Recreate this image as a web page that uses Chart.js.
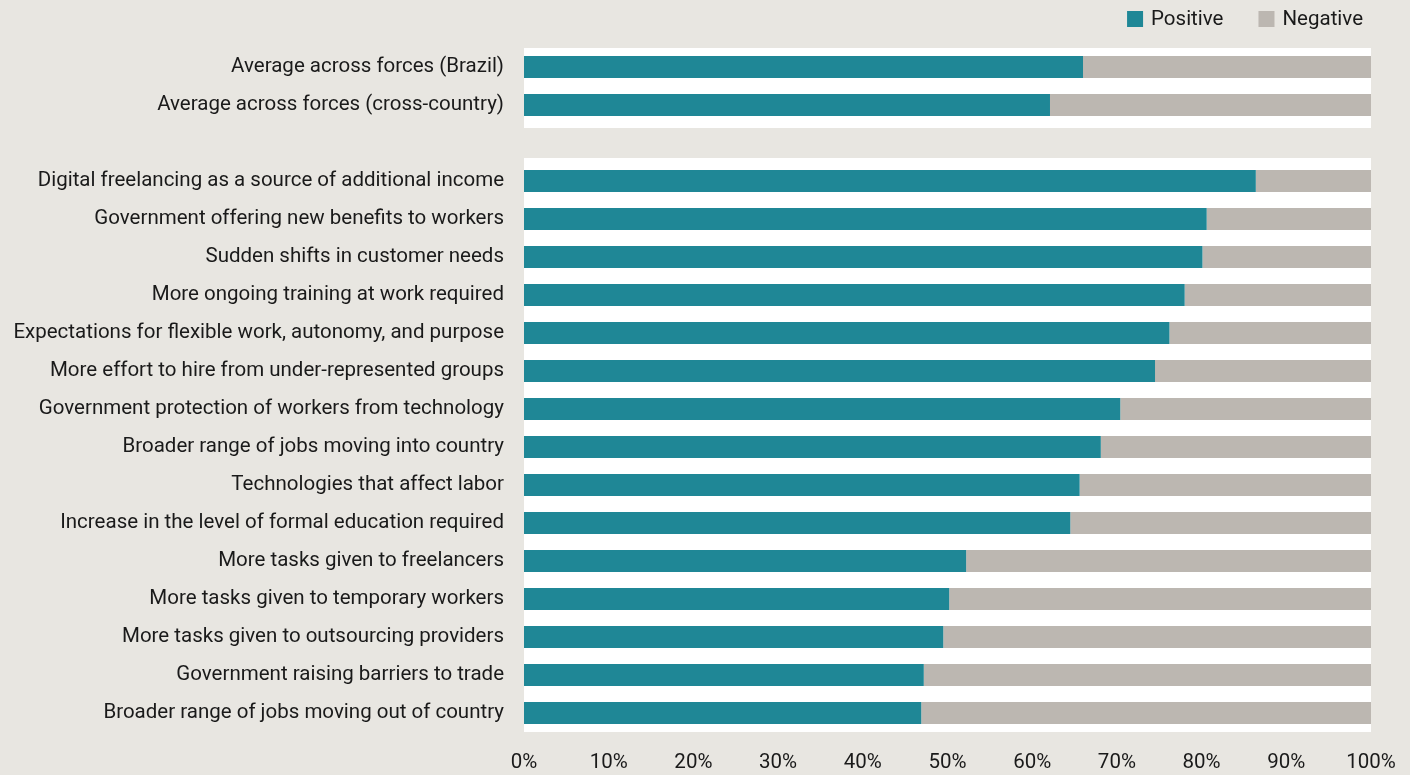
<!DOCTYPE html>
<html>
<head>
<meta charset="utf-8">
<script src="https://cdn.jsdelivr.net/npm/chart.js@4.4.1/dist/chart.umd.min.js"></script>
<style>
  html, body { margin: 0; padding: 0; background: #e8e6e1; }
  #wrap { width: 1410px; height: 775px; position: relative; }
</style>
</head>
<body>
<div id="wrap"><canvas id="chart" width="1410" height="775"></canvas></div>
<script>
// categories (blank slot separates the averages from the individual forces)
const categories = [
  'Average across forces (Brazil)',
  'Average across forces (cross-country)',
  '',
  'Digital freelancing as a source of additional income',
  'Government offering new benefits to workers',
  'Sudden shifts in customer needs',
  'More ongoing training at work required',
  'Expectations for flexible work, autonomy, and purpose',
  'More effort to hire from under-represented groups',
  'Government protection of workers from technology',
  'Broader range of jobs moving into country',
  'Technologies that affect labor',
  'Increase in the level of formal education required',
  'More tasks given to freelancers',
  'More tasks given to temporary workers',
  'More tasks given to outsourcing providers',
  'Government raising barriers to trade',
  'Broader range of jobs moving out of country'
];

const positive = [66.0, 62.1, null, 86.4, 80.6, 80.1, 78.0, 76.2, 74.5, 70.4, 68.1, 65.6, 64.5, 52.2, 50.2, 49.5, 47.2, 46.9];
const negative = [34.0, 37.9, null, 13.6, 19.4, 19.9, 22.0, 23.8, 25.5, 29.6, 31.9, 34.4, 35.5, 47.8, 49.8, 50.5, 52.8, 53.1];

const xTicks = [0, 10, 20, 30, 40, 50, 60, 70, 80, 90, 100];

const TEAL = '#1f8796';
const GREY = '#bcb7b1';
const TEXT = '#1a1a1a';
const FONT = "Roboto, 'Liberation Sans', sans-serif";
const SIZE = 20.5;

// white panels behind the two groups of bars
const panelPlugin = {
  id: 'panels',
  beforeDatasetsDraw(chart) {
    const { ctx, chartArea, scales } = chart;
    const y = scales.y;
    const half = (y.getPixelForValue(1) - y.getPixelForValue(0)) / 2;
    ctx.save();
    ctx.fillStyle = '#ffffff';
    let t = y.getPixelForValue(0) - half;
    let b = y.getPixelForValue(1) + half + 4;
    ctx.fillRect(chartArea.left, t, chartArea.right - chartArea.left, b - t);
    t = y.getPixelForValue(3) - half - 4;
    b = y.getPixelForValue(categories.length - 1) + half;
    ctx.fillRect(chartArea.left, t, chartArea.right - chartArea.left, b - t);
    ctx.restore();
  }
};

// legend drawn top right
const legendPlugin = {
  id: 'topLegend',
  afterDraw(chart) {
    const { ctx } = chart;
    const items = [['Negative', GREY], ['Positive', TEAL]];
    ctx.save();
    ctx.font = SIZE + 'px ' + FONT;
    ctx.textBaseline = 'middle';
    let x = chart.chartArea.right - 8;
    const yMid = 19;
    items.forEach(([label, color]) => {
      const w = ctx.measureText(label).width;
      x -= w;
      ctx.fillStyle = TEXT;
      ctx.fillText(label, x, yMid + 1);
      x -= 24;
      ctx.fillStyle = color;
      ctx.fillRect(x, yMid - 8, 16, 16);
      x -= 35;
    });
    ctx.restore();
  }
};

new Chart(document.getElementById('chart'), {
  type: 'bar',
  data: {
    labels: categories,
    datasets: [
      { label: 'Positive', data: positive, backgroundColor: TEAL, borderWidth: 0,
        barPercentage: 0.58, categoryPercentage: 1 },
      { label: 'Negative', data: negative, backgroundColor: GREY, borderWidth: 0,
        barPercentage: 0.58, categoryPercentage: 1 }
    ]
  },
  options: {
    indexAxis: 'y',
    responsive: false,
    animation: false,
    layout: { padding: { top: 48, right: 39, left: 0, bottom: 0 } },
    plugins: { legend: { display: false }, tooltip: { enabled: false } },
    scales: {
      x: {
        stacked: true,
        min: 0,
        max: 100,
        afterBuildTicks(scale) { scale.ticks = xTicks.map(v => ({ value: v })); },
        afterFit(scale) {
          scale.height = 43;
          scale.paddingLeft = 0;
          scale.paddingRight = 0;
        },
        grid: { display: false, drawTicks: false },
        border: { display: false },
        ticks: {
          color: TEXT,
          font: { family: FONT, size: SIZE },
          padding: 19,
          maxRotation: 0,
          callback: v => v + '%'
        }
      },
      y: {
        stacked: true,
        afterFit(scale) { scale.width = 524; },
        grid: { display: false, drawTicks: false },
        border: { display: false },
        ticks: {
          color: TEXT,
          font: { family: FONT, size: SIZE },
          padding: 20,
          autoSkip: false
        }
      }
    }
  },
  plugins: [panelPlugin, legendPlugin]
});
</script>
</body>
</html>
